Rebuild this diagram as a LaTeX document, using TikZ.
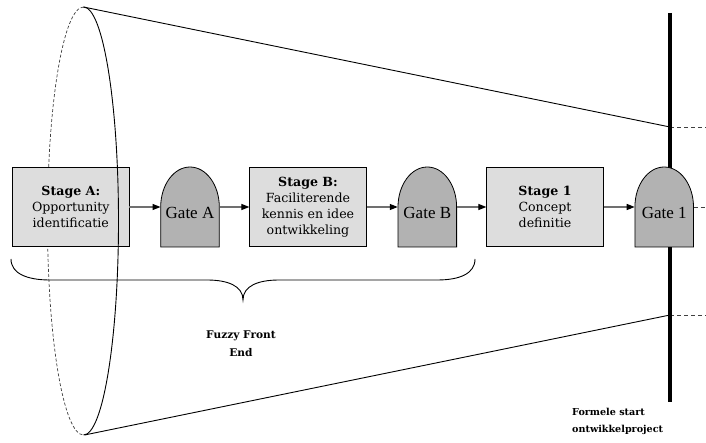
\documentclass[tikz,border=0pt]{standalone}
\usepackage{fontspec}
\setmainfont{DejaVu Serif}
\newfontfamily\gatefont{Liberation Serif}
\usetikzlibrary{arrows.meta,calc}
\definecolor{stagegray}{HTML}{DDDDDD}
\definecolor{gategray}{HTML}{B2B2B2}
\definecolor{flowgray}{HTML}{707070}
\definecolor{dashgray}{HTML}{404040}

% stage-gate gate: a flat-bottomed dome with its label
\newcommand\gatenode[3]{%
  \coordinate (#1-c) at (#2);
  \filldraw[gateshape] ($(#1-c)+(-29.3,-40)$) -- ($(#1-c)+(-29.3,0)$)
    arc[start angle=180,end angle=0,x radius=29.3pt,y radius=40pt]
    -- ($(#1-c)+(29.3,-40)$) -- cycle;
  \node[gatelabel] (#1) at (#1-c) {#3};
}

\begin{document}
\begin{tikzpicture}[x=1pt,y=1pt,
  stagebox/.style={draw=black, line width=0.8pt, fill=stagegray,
    minimum width=116.5pt, minimum height=79pt, inner sep=0pt,
    align=center, font=\fontsize{12.6}{16}\selectfont},
  gateshape/.style={draw=black, line width=0.8pt, fill=gategray},
  gatelabel/.style={minimum width=58.6pt, minimum height=0pt, inner sep=0pt,
    font=\gatefont\fontsize{17}{17}\selectfont, yshift=-6pt},
  flow/.style={draw=flowgray, line width=1.2pt,
    -{Triangle[length=8pt,width=6pt,fill=black,color=black]}},
  cone/.style={draw=black, line width=0.9pt},
  hidden/.style={draw=dashgray, line width=0.7pt, dash pattern=on 3pt off 2pt},
  ext/.style={draw=dashgray, line width=0.8pt, dash pattern=on 4pt off 3pt},
  caption/.style={inner sep=0pt}
]
\useasboundingbox (0,0) rectangle (706,-443);

% funnel: ellipse rim and the two converging edges
\coordinate (rimtop) at (83.5,-7);
\coordinate (rimbot) at (84.5,-435);
\coordinate (ctop) at (670,-127);
\coordinate (cbot) at (670,-315);
\coordinate (ctopend) at (706,-127);
\coordinate (cbotend) at (706,-315);
\draw[hidden] (rimtop) arc[start angle=90,end angle=270,x radius=36pt,y radius=214pt];
\draw[cone] (rimtop) -- (ctop);
\draw[cone] (rimbot) -- (cbot);
\draw[ext] (ctop) -- (ctopend);
\draw[ext] (cbot) -- (cbotend);

% formal project start
\coordinate (bartop) at (670,-13);
\coordinate (barbot) at (670,-402);
\draw[line width=4pt] (bartop) -- (barbot);

% stages and gates
\node[stagebox] (sA) at (70.8,-207) {\textbf{Stage A:}\\Opportunity\\identificatie};
\gatenode{gA}{190,-207}{Gate A}
\node[stagebox] (sB) at (308,-207) {\textbf{Stage B:}\\Faciliterende\\kennis en idee\\ontwikkeling};
\gatenode{gB}{427.3,-207}{Gate B}
\node[stagebox] (s1) at (545,-207) {\textbf{Stage 1}\\Concept\\definitie};
\gatenode{g1}{664.2,-207}{Gate 1}

\draw[flow] (sA.east) -- (sA.east -| gA.west);
\draw[flow] (gA-c -| gA.east) -- (sB.west);
\draw[flow] (sB.east) -- (sB.east -| gB.west);
\draw[flow] (gB-c -| gB.east) -- (s1.west);
\draw[flow] (s1.east) -- (s1.east -| g1.west);
\coordinate (g1end) at (706,-207);
\draw[ext] (g1-c -| g1.east) -- (g1end);

% visible half of the rim
\draw[cone] (rimtop) arc[start angle=90,end angle=-90,x radius=35pt,y radius=214pt];

% brace under the front end
\coordinate (brL) at (11,-259);
\coordinate (brR) at (475,-259);
\coordinate (brT) at (243,-300);
\draw[line width=0.9pt] (brL) .. controls (11,-274) and (28,-280) .. (50,-280)
  -- (207,-280) .. controls (228,-280) and (243,-286) .. (brT)
  .. controls (243,-286) and (258,-280) .. (279,-280)
  -- (437,-280) .. controls (459,-280) and (475,-274) .. (brR);

\node[caption, align=center, font=\bfseries\fontsize{10.6}{18}\selectfont] (ffe) at (241,-344) {Fuzzy Front\\End};
\node[caption, align=left, anchor=west, font=\bfseries\fontsize{9.6}{17}\selectfont] (fs) at (572,-421) {Formele start\\ontwikkelproject};
\end{tikzpicture}
\end{document}
